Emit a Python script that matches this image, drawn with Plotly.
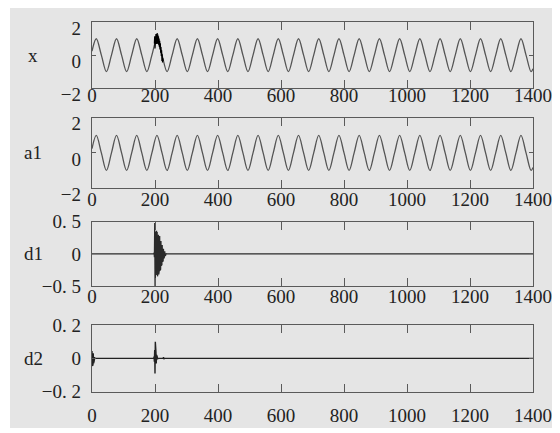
import plotly.graph_objects as go

# ---------------- data ----------------
# sample positions of the clean sinusoid (extrema and zero crossings)
sine_t = [0, 13.6, 29.7, 45.7, 61.8, 77.8, 93.9, 109.9, 126.0, 142.0, 158.1, 174.1,
          190.2, 206.2, 222.3, 238.3, 254.4, 270.4, 286.5, 302.5, 318.6, 334.6, 350.7,
          366.7, 382.8, 398.8, 414.9, 430.9, 447.0, 463.0, 479.1, 495.1, 511.2, 527.2,
          543.3, 559.3, 575.4, 591.4, 607.5, 623.5, 639.6, 655.6, 671.7, 687.7, 703.8,
          719.8, 735.9, 751.9, 768.0, 784.0, 800.1, 816.1, 832.2, 848.2, 864.3, 880.3,
          896.4, 912.4, 928.5, 944.5, 960.6, 976.6, 992.7, 1008.7, 1024.8, 1040.8,
          1056.9, 1072.9, 1089.0, 1105.0, 1121.1, 1137.1, 1153.2, 1169.2, 1185.3,
          1201.3, 1217.4, 1233.4, 1249.5, 1265.5, 1281.6, 1297.6, 1313.7, 1329.7,
          1345.8, 1361.8, 1377.9, 1393.9, 1400]
sine_vals = [0.24,
             1, 0, -1, 0, 1, 0, -1, 0, 1, 0, -1, 0, 1, 0, -1, 0, 1, 0, -1, 0,
             1, 0, -1, 0, 1, 0, -1, 0, 1, 0, -1, 0, 1, 0, -1, 0, 1, 0, -1, 0,
             1, 0, -1, 0, 1, 0, -1, 0, 1, 0, -1, 0, 1, 0, -1, 0, 1, 0, -1, 0,
             1, 0, -1, 0, 1, 0, -1, 0, 1, 0, -1, 0, 1, 0, -1, 0, 1, 0, -1, 0,
             1, 0, -1, 0, 1, 0, -1,
             -0.83]

# noisy segment of x around the disturbance
x_burst_t = [198, 199, 200, 201, 202, 203, 204, 205, 206, 207, 208, 209, 210, 211,
             212, 213, 214, 215, 216, 217, 218, 219, 220, 221, 222, 223, 224, 225, 226]
x_burst_vals = [0.70, 1.15, 0.40, 1.12, 0.70, 1.28, 0.68, 1.32, 0.75, 1.35, 0.70, 1.25,
                0.68, 1.15, 0.60, 1.02, 0.50, 0.88, 0.35, 0.72, 0.15, 0.50, -0.05, 0.30,
                -0.35, 0.05, -0.45, -0.20, -0.36]

# detail d1
d1_t = [0, 196, 197, 198, 199, 200, 201, 202, 203, 204, 205, 206, 207, 208, 209, 210,
        211, 212, 213, 214, 215, 216, 217, 218, 219, 220, 221, 222, 223, 224, 225, 226,
        227, 228, 229, 230, 231, 232, 233, 234, 235, 236, 1400]
d1_vals = [0, 0, 0.02, -0.05, 0.48, -0.50, 0.30, -0.28, 0.35, -0.33, 0.36, -0.30, 0.34,
           -0.35, 0.32, -0.28, 0.30, -0.32, 0.27, -0.25, 0.28, -0.26, 0.22, -0.24, 0.20,
           -0.18, 0.16, -0.17, 0.14, -0.12, 0.10, -0.11, 0.08, -0.07, 0.06, -0.05, 0.04,
           -0.03, 0.02, -0.02, 0.01, 0, 0]

# detail d2
d2_t = [0, 1, 2, 3, 4, 5, 6, 7, 8, 9, 10, 196, 197, 198, 199, 200, 201, 202, 203, 204,
        205, 206, 207, 208, 209, 226, 227, 228, 229, 1400]
d2_vals = [0.045, -0.045, 0.04, -0.04, 0.03, -0.03, 0.02, -0.015, 0.008, -0.004, 0,
           0, 0.01, -0.02, 0.05, -0.09, 0.10, -0.06, 0.04, -0.03, 0.02, -0.015, 0.01,
           -0.005, 0, 0, 0.008, -0.005, 0, 0]

x_tickvals = [0, 200, 400, 600, 800, 1000, 1200, 1400]
x_ticktext = ["0", "200", "400", "600", "800", "1000", "1200", "1400"]
row_labels = ["x", "a1", "d1", "d2"]
y_ranges = [[-2, 2], [-2, 2], [-0.5, 0.5], [-0.2, 0.2]]
y_tickvals = [[-2, 0, 2], [-2, 0, 2], [-0.5, 0, 0.5], [-0.2, 0, 0.2]]
y_ticktext = [["−2", "0", "2"], ["−2", "0", "2"], ["−0. 5", "0", "0. 5"], ["−0. 2", "0", "0. 2"]]

# ---------------- figure ----------------
# the page body adds an 8px offset; design in page pixels and subtract it
OFF = 8
W, H = 560 - OFF, 433 - OFF
ML = 92 - OFF
MR = W - (533 - OFF)
PW = W - ML - MR
box_px = [(22.3, 88.0), (117.8, 188.0), (221.8, 286.0), (325.0, 391.8)]
box_px = [(a - OFF, b - OFF) for a, b in box_px]
x_standoff = [-10, -6, -7, 6]
y_shift = [6, 6, 0, 0]

AX = "#5a5a5a"
FONT = "Liberation Serif"

fig = go.Figure()
fig.add_trace(go.Scatter(x=sine_t, y=sine_vals, mode="lines", line=dict(color="#555555", width=1.3, shape="spline"),
                         xaxis="x", yaxis="y", showlegend=False))
fig.add_trace(go.Scatter(x=x_burst_t, y=x_burst_vals, mode="lines", line=dict(color="#000000", width=1.2),
                         xaxis="x", yaxis="y", showlegend=False))
fig.add_trace(go.Scatter(x=sine_t, y=sine_vals, mode="lines", line=dict(color="#555555", width=1.3, shape="spline"),
                         xaxis="x2", yaxis="y2", showlegend=False))
fig.add_trace(go.Scatter(x=d1_t, y=d1_vals, mode="lines", line=dict(color="#2a2a2a", width=1.2),
                         xaxis="x3", yaxis="y3", showlegend=False))
fig.add_trace(go.Scatter(x=d2_t, y=d2_vals, mode="lines", line=dict(color="#222222", width=1.4),
                         xaxis="x4", yaxis="y4", showlegend=False))

layout = dict(
    width=W, height=H,
    margin=dict(l=ML, r=MR, t=0, b=0, pad=0),
    paper_bgcolor="white",
    plot_bgcolor="rgba(0,0,0,0)",
    template="none",
    font=dict(family=FONT, size=19, color="#222222"),
    showlegend=False,
)

annotations = []
for i in range(4):
    top, bot = box_px[i]
    sfx = "" if i == 0 else str(i + 1)
    layout["xaxis" + sfx] = dict(
        domain=[0, 1], range=[0, 1400], anchor="y" + sfx,
        tickmode="array", tickvals=x_tickvals, ticktext=x_ticktext,
        ticks="inside", ticklen=8, tickwidth=1.2, tickcolor=AX,
        showline=True, linecolor=AX, linewidth=1.3, mirror="ticks",
        showgrid=False, zeroline=False, automargin=False,
        ticklabelstandoff=x_standoff[i],
        tickfont=dict(family=FONT, size=19, color="#222222"),
    )
    layout["yaxis" + sfx] = dict(
        domain=[1 - bot / H, 1 - top / H], range=y_ranges[i], anchor="x" + sfx,
        tickmode="array", tickvals=y_tickvals[i], ticktext=y_ticktext[i],
        ticks="inside", ticklen=4, tickwidth=1.2, tickcolor=AX,
        showline=True, linecolor=AX, linewidth=1.3, mirror="ticks",
        showgrid=False, zeroline=False, automargin=False,
        ticklabelstandoff=6, ticklabelshift=y_shift[i],
        tickfont=dict(family=FONT, size=19, color="#222222"),
    )
    annotations.append(dict(
        text=row_labels[i], xref="paper", yref="y" + sfx + " domain",
        x=(33 - 92) / PW, y=0.5, xanchor="center", yanchor="middle",
        showarrow=False, font=dict(family=FONT, size=19, color="#222222"),
    ))

layout["annotations"] = annotations
layout["shapes"] = [dict(
    type="rect", xref="paper", yref="paper", layer="below",
    x0=(10 - 92) / PW, x1=(560 - 92) / PW, y0=1 - (428 - OFF) / H, y1=1.0,
    fillcolor="#e5e5e5", line=dict(width=0),
)]

fig.update_layout(**layout)
fig.write_html("out.html")
